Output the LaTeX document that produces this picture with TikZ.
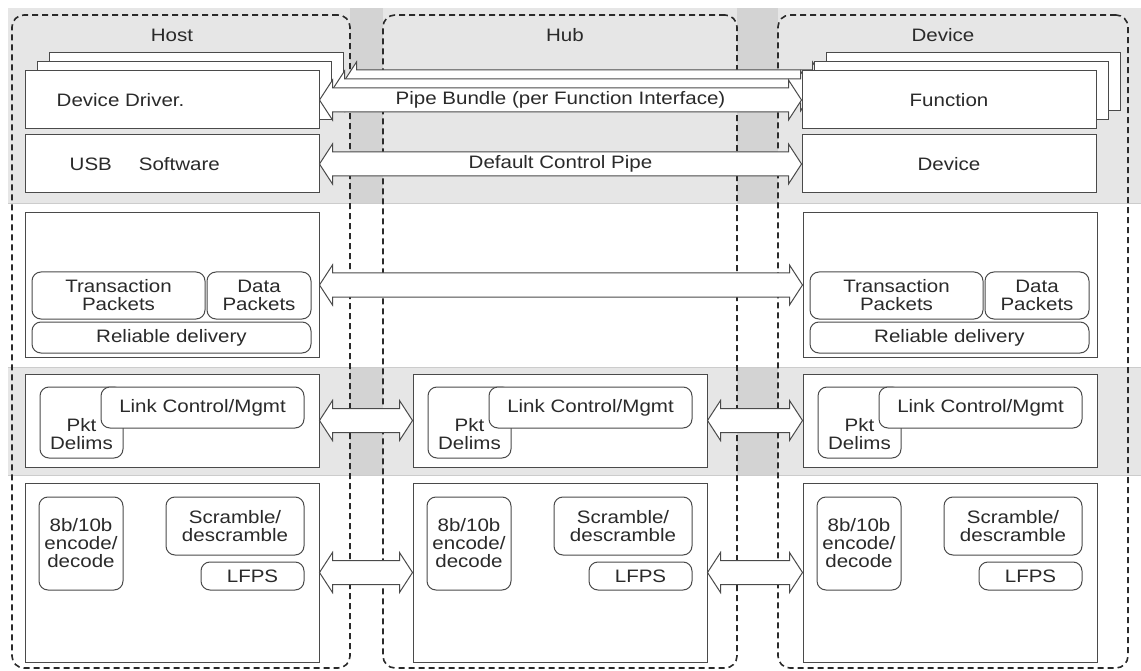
\documentclass[tikz,border=0pt]{standalone}
\usepackage{fontspec}
\setmainfont{Liberation Sans}[FakeStretch=1.14]
\usetikzlibrary{calc}

\definecolor{Band}{HTML}{E6E6E6}
\definecolor{Strip}{HTML}{D3D3D3}
\definecolor{Ink}{HTML}{2A2A2A}
\definecolor{Edge}{HTML}{4A4A4A}

\tikzset{
  every node/.style={font=\fontsize{18}{18}\selectfont, text=Ink, align=center, inner sep=0pt},
  zone/.style={draw=Ink, line width=1.6pt, dash pattern=on 6pt off 4pt, rounded corners=12pt},
  layer/.style={draw=Edge, fill=white, line width=1pt},
  rbox/.style={draw=Edge, fill=white, line width=1pt, rounded corners=9pt},
  pipe/.style={draw=Edge, fill=white, line width=1pt},
}

\newcommand{\pipearrow}[2]{%
  \draw[pipe] let \p1=(#1), \p2=(#2) in
    (\x1,\y1) -- (\x1+13pt,\y1+20pt) -- (\x1+13pt,\y1+12pt) -- (\x2-13pt,\y1+12pt)
    -- (\x2-13pt,\y1+20pt) -- (\x2,\y1) -- (\x2-13pt,\y1-20pt) -- (\x2-13pt,\y1-12pt)
    -- (\x1+13pt,\y1-12pt) -- (\x1+13pt,\y1-20pt) -- cycle;}

\begin{document}
\begin{tikzpicture}[x=1pt, y=-1pt]
\useasboundingbox (0,0) rectangle (1141,671);

  %%%%%%%%%% Gray bands %%%%%%%%%%
  \fill[Band] (8,8) rectangle (1141,204);
  \fill[Band] (8,367) rectangle (1141,475);
  \foreach \a/\b in {350/383, 737/778}
  {
    \fill[Strip] (\a,8) rectangle (\b,204);
    \fill[Strip] (\a,367) rectangle (\b,475);
  }
  \draw[black!20, line width=1pt] (8,204) -- (1141,204) (8,367) -- (1141,367) (8,475) -- (1141,475);

  %%%%%%%%%% Host / Hub / Device %%%%%%%%%%
  \node[zone, minimum width=338pt, minimum height=653pt] (host) at (181,341.5) {};
  \node[zone, minimum width=354pt, minimum height=653pt] (hub) at (560,341.5) {};
  \node[zone, minimum width=350pt, minimum height=653pt] (device) at (953,341.5) {};
  \node (hosttitle) at (172,35) {Host};
  \node (hubtitle) at (565,35) {Hub};
  \node (devtitle) at (943,35) {Device};

  %%%%%%%%%% Pipe bundle (stack) %%%%%%%%%%
  \foreach \k/\s in {c/2, b/1}
  {
    \node[layer, minimum width=294pt, minimum height=58pt] (hdrv\k) at (172+12*\s,100-9*\s) {};
    \node[layer, minimum width=294pt, minimum height=58pt] (dfun\k) at (949+12*\s,100-9*\s) {};
    \pipearrow{hdrv\k.east}{dfun\k.west}
  }
  \node[layer, minimum width=294pt, minimum height=58pt] (hdrv) at (172,100) {};
  \node[anchor=west] (hdrvtxt) at ([xshift=32pt]hdrv.west) {Device Driver.};
  \node[layer, minimum width=294pt, minimum height=58pt] (dfun) at (949,100) {Function};
  \pipearrow{hdrv.east}{dfun.west}
  \node (pipelbl) at ($(hdrv.east)!0.5!(dfun.west)$) {Pipe Bundle (per Function Interface)};

  %%%%%%%%%% Default control pipe %%%%%%%%%%
  \node[layer, minimum width=294pt, minimum height=58pt] (husb) at (172,164) {};
  \node[anchor=west] (husbtxt) at ([xshift=45pt]husb.west) {USB\hspace{27pt}Software};
  \node[layer, minimum width=294pt, minimum height=58pt] (ddev) at (949,164) {Device};
  \pipearrow{husb.east}{ddev.west}
  \node (ctrllbl) at ($(husb.east)!0.5!(ddev.west)$) {Default Control Pipe};

  %%%%%%%%%% Protocol layer %%%%%%%%%%
  \foreach \c/\x in {h/25, d/803}
  {
    \node[layer, minimum width=294pt, minimum height=144pt] (\c-tr) at (\x+147,285) {};
    \node[rbox, minimum width=173pt, minimum height=47pt] (\c-tp) at (\x+93.5,295.5) {Transaction\\Packets};
    \node[rbox, minimum width=104pt, minimum height=47pt] (\c-dp) at (\x+234,295.5) {Data\\Packets};
    \node[rbox, minimum width=279pt, minimum height=31pt] (\c-rd) at (\x+146.5,337.5) {Reliable delivery};
  }
  \pipearrow{h-tr.east}{d-tr.west}

  %%%%%%%%%% Link layer %%%%%%%%%%
  \foreach \c/\x in {h/25, u/413, d/803}
  {
    \node[layer, minimum width=294pt, minimum height=93pt] (\c-lk) at (\x+147,420.5) {};
    \node[rbox, minimum width=83pt, minimum height=71pt] (\c-pd) at (\x+56.5,422.5) {};
    \node (\c-pdtxt) at (\x+56.5,434) {Pkt\\Delims};
    \node[rbox, minimum width=203pt, minimum height=41pt] (\c-lc) at (\x+177.5,407.5) {Link Control/Mgmt};
  }
  \pipearrow{h-lk.east}{u-lk.west}
  \pipearrow{u-lk.east}{d-lk.west}

  %%%%%%%%%% Physical layer %%%%%%%%%%
  \foreach \c/\x in {h/25, u/413, d/803}
  {
    \node[layer, minimum width=294pt, minimum height=179pt] (\c-ph) at (\x+147,572.5) {};
    \node[rbox, minimum width=84pt, minimum height=93pt] (\c-enc) at (\x+56,543.5) {8b/10b\\encode/\\decode};
    \node[rbox, minimum width=138pt, minimum height=58pt] (\c-scr) at (\x+210,526) {Scramble/\\descramble};
    \node[rbox, minimum width=103pt, minimum height=28pt] (\c-lfps) at (\x+227.5,576) {LFPS};
  }
  \pipearrow{h-ph.east}{u-ph.west}
  \pipearrow{u-ph.east}{d-ph.west}

\end{tikzpicture}
\end{document}
